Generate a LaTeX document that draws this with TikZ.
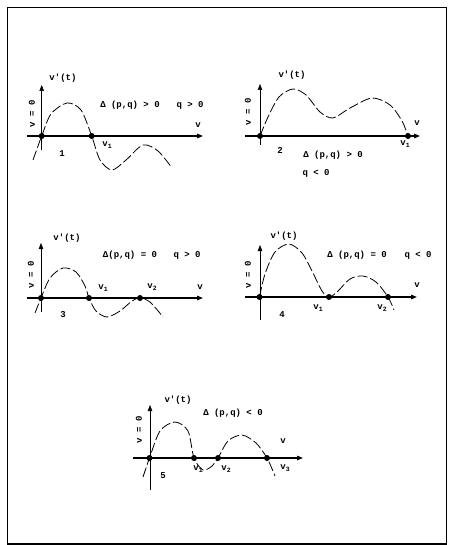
\documentclass[tikz,border=0pt]{standalone}
\usepackage{fontspec}
\usepackage{tikz}
\usetikzlibrary{arrows.meta}
\newfontfamily\plotfont{Liberation Mono}
\newcommand{\vsub}[1]{v\raisebox{-2pt}{\fontsize{6.5}{7}\selectfont #1}}

\begin{document}
\begin{tikzpicture}[
  x=1pt, y=-1pt,
  axis/.style={line width=1.3pt, -{Triangle[length=6pt,width=4.5pt]}},
  yaxis/.style={line width=0.5pt, -{Triangle[length=6pt,width=4.5pt]}},
  root/.style={circle, fill=black, inner sep=0pt, minimum size=6pt},
  curve/.style={line width=0.8pt, dash pattern=on 10pt off 3pt},
  lbl/.style={font=\plotfont\bfseries\fontsize{9}{10}\selectfont, inner sep=0pt},
  sidelbl/.style={lbl, rotate=90}
]
\useasboundingbox (0,0) rectangle (449,545);
\draw[line width=1.5pt] (7.5,7.5) rectangle (446.5,544);

% panel 1
\coordinate (start1) at (27,136);
\coordinate (end1) at (203,136);
\coordinate (low1) at (41.7,150);
\coordinate (top1) at (41.7,85);
\node[root] (orig1) at (41.7,136) {};
\node[root] (r1a) at (91.7,136) {};
\draw[axis] (start1) -- (end1);
\draw[yaxis] (low1) -- (top1);
\draw[curve] plot[smooth] coordinates {(33,160) (41.7,136) (51,114) (67,103) (81,110) (91.7,136) (100,160) (112,170) (126,160) (143,145) (158,151) (172,168)};
\node[lbl] (vt1) at (63,78) {v'(t)};
\node[sidelbl] (side1) at (32,114) {v = 0};
\node[lbl] (delta1) at (130,105) {Δ (p,q) > 0};
\node[lbl] (q1) at (190,105) {q > 0};
\node[lbl] (v1) at (198,125) {v};
\node[lbl] (r1alab) at (107,145) {\vsub{1}};
\node[lbl] (num1) at (62,154) {1};

% panel 2
\coordinate (start2) at (245,136);
\coordinate (end2) at (420,136);
\coordinate (low2) at (260,145);
\coordinate (top2) at (260,84);
\node[root] (orig2) at (260,136) {};
\node[root] (r2a) at (408,136) {};
\draw[axis] (start2) -- (end2);
\draw[yaxis] (low2) -- (top2);
\draw[curve] plot[smooth] coordinates {(260,136) (268,117) (279,97) (293,89) (306,95) (320,112) (333,118) (350,108) (372,98) (390,105) (402,121) (408,136)};
\node[lbl] (vt2) at (292,75) {v'(t)};
\node[sidelbl] (side2) at (248,112) {v = 0};
\node[lbl] (v2) at (417,123) {v};
\node[lbl] (r2alab) at (405,144) {\vsub{1}};
\node[lbl] (num2) at (280,150) {2};
\node[lbl] (delta2) at (333,155) {Δ (p,q) > 0};
\node[lbl] (q2) at (316,173) {q < 0};

% panel 3
\coordinate (start3) at (27,298);
\coordinate (end3) at (203,298);
\coordinate (low3) at (41,312);
\coordinate (top3) at (41,243);
\node[root] (orig3) at (41,298) {};
\node[root] (r3a) at (89,298) {};
\node[root] (r3b) at (140,298) {};
\draw[axis] (start3) -- (end3);
\draw[yaxis] (low3) -- (top3);
\draw[curve] plot[smooth] coordinates {(35,313) (41,298) (50,278) (63,268) (76,272) (85,286) (89,298) (96,311) (107,317) (120,311) (132,301) (140,298) (150,302) (163,317)};
\node[lbl] (vt3) at (67,238) {v'(t)};
\node[sidelbl] (side3) at (31,275) {v = 0};
\node[lbl] (delta3) at (130,255) {Δ(p,q) = 0};
\node[lbl] (q3) at (187,255) {q > 0};
\node[lbl] (r3alab) at (103,288) {\vsub{1}};
\node[lbl] (r3blab) at (152,287) {\vsub{2}};
\node[lbl] (v3) at (200,287) {v};
\node[lbl] (num3) at (63,315) {3};

% panel 4
\coordinate (start4) at (245,297);
\coordinate (end4) at (417,297);
\coordinate (low4) at (260,320);
\coordinate (top4) at (260,245);
\node[root] (orig4) at (259.5,297) {};
\node[root] (r4a) at (329,297) {};
\node[root] (r4b) at (388,297) {};
\draw[axis] (start4) -- (end4);
\draw[yaxis] (low4) -- (top4);
\draw[curve] plot[smooth] coordinates {(259.5,297) (265,274) (275,252) (289,244) (302,253) (312,271) (322,291) (329,297) (337,292) (350,279) (363,276) (376,282) (388,297) (394,310)};
\node[lbl] (vt4) at (284,236) {v'(t)};
\node[sidelbl] (side4) at (248,275) {v = 0};
\node[lbl] (delta4) at (357,255) {Δ (p,q) = 0};
\node[lbl] (q4) at (418,255) {q < 0};
\node[lbl] (v4) at (417,285) {v};
\node[lbl] (r4alab) at (318,308) {\vsub{1}};
\node[lbl] (r4blab) at (382,308) {\vsub{2}};
\node[lbl] (num4) at (282,315) {4};

% panel 5
\coordinate (start5) at (133,458);
\coordinate (end5) at (303,458);
\coordinate (low5) at (150,490);
\coordinate (top5) at (150,405);
\node[root] (orig5) at (149.5,458) {};
\node[root] (r5a) at (194,458) {};
\node[root] (r5b) at (218,458) {};
\node[root] (r5c) at (267,458) {};
\draw[axis] (start5) -- (end5);
\draw[yaxis] (low5) -- (top5);
\draw[curve] plot[smooth] coordinates {(143,477) (149.5,458) (160,431) (175,422) (188,431) (194,458) (203,470) (212,466) (218,458) (228,441) (242,435) (256,443) (267,458) (275,476)};
\node[lbl] (vt5) at (178,400) {v'(t)};
\node[sidelbl] (side5) at (139,430) {v = 0};
\node[lbl] (delta5) at (233,413) {Δ (p,q) < 0};
\node[lbl] (v5) at (283,441) {v};
\node[lbl] (r5alab) at (198,469) {\vsub{1}};
\node[lbl] (r5blab) at (226,469) {\vsub{2}};
\node[lbl] (r5clab) at (285,468) {\vsub{3}};
\node[lbl] (num5) at (163,476) {5};
\end{tikzpicture}
\end{document}
